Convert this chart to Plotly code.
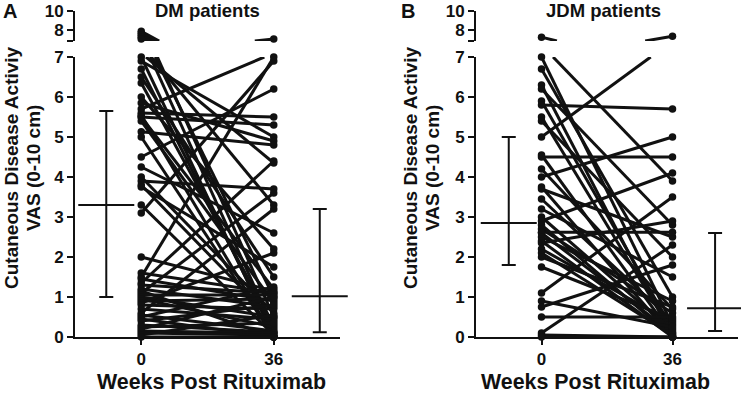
import plotly.graph_objects as go

# ---------------- data ----------------
weeks = [0, 36]

dm_week0 = [7.9, 7.7, 7.5, 7.3, 7.1, 7.0, 6.9, 6.7, 6.5, 6.35, 6.0, 5.85, 5.7, 5.6,
            5.55, 5.5, 5.5, 5.4, 5.13, 5.0, 4.5, 4.25, 4.0, 3.9, 3.8, 3.75, 3.3, 3.1,
            2.0, 1.6, 1.5, 1.45, 1.35, 1.3, 1.2, 1.15, 1.1, 1.05, 1.0, 0.95, 0.9, 0.85,
            0.8, 0.7, 0.6, 0.55, 0.5, 0.45, 0.4, 0.3, 0.25, 0.2, 0.15, 0.1, 0.05, 0.0]
dm_week36 = [0.5, 1.0, 0.2, 3.3, 4.35, 0.0, 5.0, 0.1, 1.5, 0.3, 2.2, 4.9, 7.1, 5.5,
             0.0, 5.3, 1.2, 0.85, 4.8, 0.0, 6.2, 2.6, 0.6, 3.7, 0.4, 1.75, 0.05, 6.9,
             1.15, 1.1, 7.0, 0.9, 4.4, 1.1, 0.75, 0.0, 3.6, 1.05, 0.5, 0.25, 0.95, 2.1,
             0.7, 0.45, 3.2, 0.15, 1.25, 0.0, 0.8, 0.12, 0.35, 1.0, 0.1, 0.05, 0.55, 0.0]

jdm_week0 = [7.3, 7.0, 6.7, 6.3, 6.2, 5.9, 5.8, 5.5, 5.4, 5.0, 4.55, 4.5, 4.2, 4.0,
             3.75, 3.7, 3.45, 3.2, 3.0, 2.9, 2.8, 2.7, 2.62, 2.6, 2.5, 2.4, 2.35, 2.2,
             2.1, 2.0, 1.75, 1.1, 0.9, 0.75, 0.5, 0.1, 0.05, 0.0]
jdm_week36 = [3.9, 0.3, 1.0, 0.0, 2.8, 0.2, 5.7, 0.1, 2.0, 7.4, 0.05, 4.5, 0.7, 5.0,
              0.0, 2.5, 0.4, 1.5, 0.15, 4.1, 0.0, 0.6, 2.62, 0.1, 0.9, 0.0, 2.9, 0.35,
              0.05, 0.75, 0.45, 3.5, 0.25, 1.8, 0.5, 2.3, 0.0, 0.0]

# median and interquartile range at week 0 / week 36
dm_median = [3.3, 1.02]
dm_q1 = [1.0, 0.12]
dm_q3 = [5.65, 3.2]
jdm_median = [2.85, 0.72]
jdm_q1 = [1.8, 0.15]
jdm_q3 = [5.0, 2.6]

lower_ticks = [0, 1, 2, 3, 4, 5, 6, 7]
upper_ticks = [6.9, 8, 10]
upper_ticktext = ["", "8", "10"]
x_ticks = [0, 36]

BREAK = 7.0
UP_RANGE = [6.9, 10]
FONT = "Liberation Sans, Arial, Helvetica, sans-serif"
INK = "#111111"

fig = go.Figure()


def clip(x0, y0, x1, y1, lo, hi):
    """part of the segment whose y lies inside [lo, hi] (None if none)."""
    if (y0 < lo and y1 < lo) or (y0 > hi and y1 > hi):
        return None
    pts = []
    for (xa, ya, xb, yb) in ((x0, y0, x1, y1), (x1, y1, x0, y0)):
        if lo <= ya <= hi:
            pts.append((xa, ya))
        else:
            edge = hi if ya > hi else lo
            t = (edge - ya) / (yb - ya)
            pts.append((xa + t * (xb - xa), edge))
    return pts


def add_panel(w0, w36, med, q1, q3, xl, yl, xu, yu, sx):
    lx, ly, ux, uy = [], [], [], []
    for a, b in zip(w0, w36):
        seg = clip(weeks[0], a, weeks[1], b, 0, BREAK)
        if seg:
            lx += [seg[0][0], seg[1][0], None]
            ly += [seg[0][1], seg[1][1], None]
        if max(a, b) > BREAK:
            seg = clip(weeks[0], a, weeks[1], b, UP_RANGE[0], UP_RANGE[1])
            if seg:
                ux += [seg[0][0], seg[1][0], None]
                uy += [seg[0][1], seg[1][1], None]
    fig.add_trace(go.Scatter(x=lx, y=ly, mode="lines", xaxis=xl, yaxis=yl, cliponaxis=False,
                             line=dict(color=INK, width=3), hoverinfo="skip", showlegend=False))
    fig.add_trace(go.Scatter(x=ux, y=uy, mode="lines", xaxis=xu, yaxis=yu, cliponaxis=False,
                             line=dict(color=INK, width=3), hoverinfo="skip", showlegend=False))
    px_low, py_low, px_up, py_up = [], [], [], []
    for a, b in zip(w0, w36):
        for xv, yv in ((weeks[0], a), (weeks[1], b)):
            if yv <= BREAK:
                px_low.append(xv); py_low.append(yv)
            else:
                px_up.append(xv); py_up.append(yv)
    fig.add_trace(go.Scatter(x=px_low, y=py_low, mode="markers", xaxis=xl, yaxis=yl,
                             cliponaxis=False, marker=dict(color=INK, size=7.5),
                             hoverinfo="skip", showlegend=False))
    fig.add_trace(go.Scatter(x=px_up, y=py_up, mode="markers", xaxis=xu, yaxis=yu,
                             cliponaxis=False, marker=dict(color=INK, size=7.5),
                             hoverinfo="skip", showlegend=False))
    fig.add_trace(go.Scatter(
        x=sx, y=med, mode="markers", xaxis=xl, yaxis=yl, cliponaxis=False,
        marker=dict(symbol="line-ew", size=40, line=dict(color=INK, width=2)),
        error_y=dict(type="data", symmetric=False,
                     array=[h - m for h, m in zip(q3, med)],
                     arrayminus=[m - l for m, l in zip(med, q1)],
                     width=7, thickness=2, color=INK),
        hoverinfo="skip", showlegend=False))


add_panel(dm_week0, dm_week36, dm_median, dm_q1, dm_q3, "x", "y", "x2", "y2", [-9.5, 48.5])
add_panel(jdm_week0, jdm_week36, jdm_median, jdm_q1, jdm_q3, "x3", "y3", "x4", "y4", [-9.0, 47.7])

W, H = 741, 403
AXIS_Y = 337          # pixel y of the x axis line
mt = 11
mb = H - AXIS_Y
ph = H - mt - mb


def px(X):
    return X / W


def py(Y):
    return (AXIS_Y - Y) / ph


low_dom = [0, py(57)]
up_dom = [py(41), 1.0]
domA = [px(75), px(340)]
domB = [px(476), px(738)]
xr = [-18, 54]

tickfont = dict(family=FONT, size=17, color=INK, weight="bold")
xcommon = dict(range=xr, showgrid=False, zeroline=False, showline=True, linecolor=INK,
               linewidth=2, ticks="outside", ticklen=6, tickwidth=2, tickcolor=INK,
               tickvals=x_ticks, tickfont=tickfont, fixedrange=True)
ylow = dict(range=[0, BREAK], domain=low_dom, showgrid=False, zeroline=False, showline=True,
            linecolor=INK, linewidth=2, ticks="outside", ticklen=6, tickwidth=2,
            tickcolor=INK, tickvals=lower_ticks, tickfont=tickfont, fixedrange=True)
yup = dict(range=UP_RANGE, domain=up_dom, showgrid=False, zeroline=False, showline=True,
           linecolor=INK, linewidth=2, ticks="outside", ticklen=6, tickwidth=2,
           tickcolor=INK, tickvals=upper_ticks, ticktext=upper_ticktext, tickfont=tickfont,
           fixedrange=True)
xhidden = dict(range=xr, visible=False, fixedrange=True)

fig.update_layout(
    width=W, height=H,
    margin=dict(l=0, r=0, t=mt, b=mb),
    plot_bgcolor="white", paper_bgcolor="white",
    font=dict(family=FONT, color=INK),
    hovermode=False,
    xaxis=dict(domain=domA, anchor="y", **xcommon),
    yaxis=dict(anchor="x", **ylow),
    xaxis2=dict(domain=domA, anchor="y2", **xhidden),
    yaxis2=dict(anchor="x2", **yup),
    xaxis3=dict(domain=domB, anchor="y3", **xcommon),
    yaxis3=dict(anchor="x3", **ylow),
    xaxis4=dict(domain=domB, anchor="y4", **xhidden),
    yaxis4=dict(anchor="x4", **yup),
)

bold = dict(family=FONT, color=INK, weight="bold")
ann = [
    dict(text="A", x=px(1), y=py(11), xanchor="left", yanchor="middle", font=dict(size=20, **bold)),
    dict(text="B", x=px(399), y=py(11), xanchor="left", yanchor="middle", font=dict(size=20, **bold)),
    dict(text="DM patients", x=px(207), y=py(10), xanchor="center", yanchor="middle", font=dict(size=18.5, **bold)),
    dict(text="JDM patients", x=px(603), y=py(10), xanchor="center", yanchor="middle", font=dict(size=18.5, **bold)),
    dict(text="Weeks Post Rituximab", x=px(211), y=py(382), xanchor="center", yanchor="middle", font=dict(size=21.4, **bold)),
    dict(text="Weeks Post Rituximab", x=px(595), y=py(382), xanchor="center", yanchor="middle", font=dict(size=21.4, **bold)),
]
for xc in (11, 410):
    ann.append(dict(text="Cutaneous Disease Activiy", x=px(xc), y=py(168), textangle=-90,
                    xanchor="center", yanchor="middle", font=dict(size=19, **bold)))
    ann.append(dict(text="VAS (0-10 cm)", x=px(xc + 22), y=py(168), textangle=-90,
                    xanchor="center", yanchor="middle", font=dict(size=19, **bold)))
for a in ann:
    a.update(xref="paper", yref="paper", showarrow=False)
fig.update_layout(annotations=ann)

fig.write_html("out.html", config={"displayModeBar": False, "staticPlot": True},
               post_script="document.body.style.margin='0px';")
